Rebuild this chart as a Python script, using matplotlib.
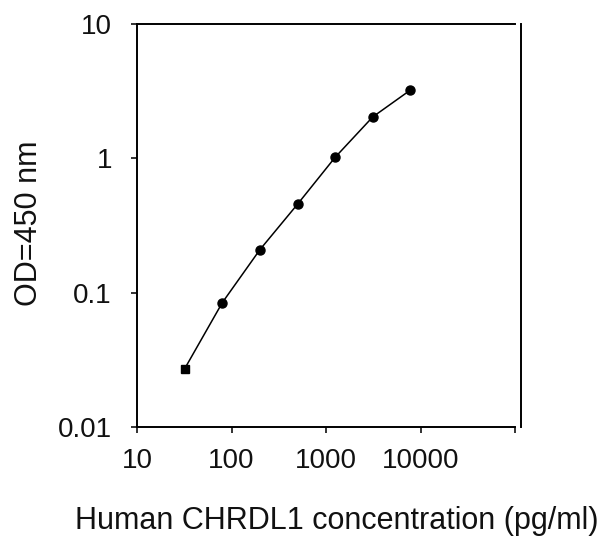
import matplotlib
matplotlib.use("Agg")
import matplotlib.pyplot as plt
from matplotlib.ticker import FixedLocator, NullLocator, FixedFormatter

plt.rcParams['font.family'] = ['Liberation Sans', 'DejaVu Sans']

concentration = [32, 80, 200, 500, 1250, 3125, 7800]
od450 = [0.0271, 0.0842, 0.209, 0.456, 1.02, 2.04, 3.23]

x_ticks = [10, 100, 1000, 10000, 100000]
x_tick_labels = ["10", "100", "1000", "10000", ""]
y_ticks = [0.01, 0.1, 1, 10]
y_tick_labels = ["0.01", "0.1", "1", "10"]

W, H = 615, 539
fig = plt.figure(figsize=(W / 100, H / 100), dpi=100)
ax = fig.add_axes([137 / W, 1 - 426.7 / H, (515 - 137) / W, (426.7 - 24.3) / H])
ax.set_xscale('log')
ax.set_yscale('log')
ax.set_xlim(10, 100000)
ax.set_ylim(0.01, 10)

ax.plot(concentration, od450, color='black', linewidth=1.1, zorder=2)
ax.plot(concentration[:1], od450[:1], linestyle='none', marker='s', markersize=5.5,
        color='black', zorder=3)
ax.plot(concentration[1:], od450[1:], linestyle='none', marker='o', markersize=6.5,
        color='black', zorder=3)

ax.xaxis.set_major_locator(FixedLocator(x_ticks))
ax.xaxis.set_major_formatter(FixedFormatter(x_tick_labels))
ax.xaxis.set_minor_locator(NullLocator())
ax.yaxis.set_major_locator(FixedLocator(y_ticks))
ax.yaxis.set_major_formatter(FixedFormatter(y_tick_labels))
ax.yaxis.set_minor_locator(NullLocator())

ax.tick_params(axis='both', direction='out', length=4, width=1.2, labelsize=20,
               colors='#111111')
ax.tick_params(axis='x', pad=11)
ax.tick_params(axis='y', pad=14)

for s in ax.spines.values():
    s.set_linewidth(1.4)
ax.spines['right'].set_position(('outward', 4))

fig.text(337 / W, 1 - 529 / H, "Human CHRDL1 concentration (pg/ml)", fontsize=22,
         ha='center', va='baseline', color='#111111')
fig.text(37 / W, 1 - 223 / H, "OD=450 nm", fontsize=22, rotation=90,
         rotation_mode='anchor', ha='center', va='baseline', color='#111111')

fig.savefig("out.png", dpi=100, facecolor='white')
